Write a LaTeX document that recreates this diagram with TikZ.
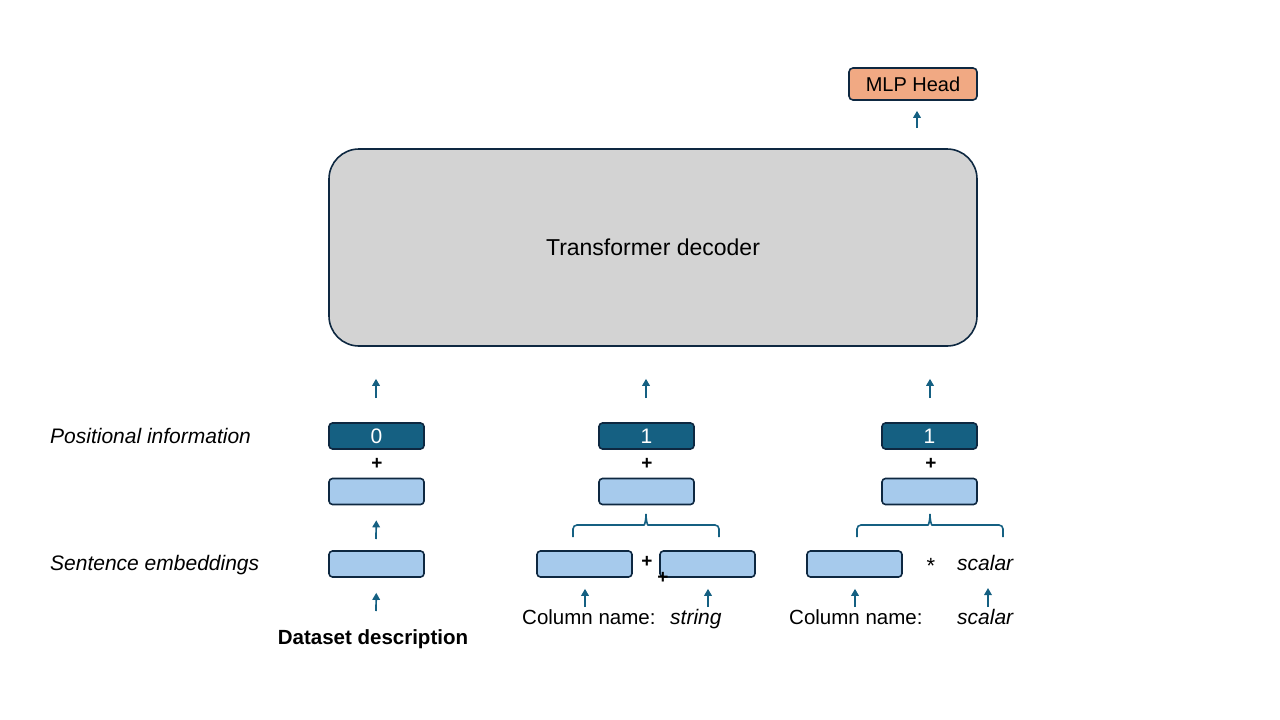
\documentclass[tikz,border=0pt]{standalone}
\usepackage{fontspec}
\setmainfont{Liberation Sans}
\usetikzlibrary{arrows.meta,calc}
\definecolor{navy}{HTML}{0E2841}
\definecolor{dblue}{HTML}{156082}
\definecolor{lblue}{HTML}{A6CAEC}
\definecolor{tgrey}{HTML}{D3D3D3}
\definecolor{salmon}{HTML}{F1A983}
\tikzset{
  lbox/.style={draw=navy, line width=1.6pt, fill=lblue, rounded corners=3.5pt, minimum width=95pt, minimum height=26pt, inner sep=0pt},
  dbox/.style={draw=navy, line width=1.6pt, fill=dblue, rounded corners=3.5pt, minimum width=95pt, minimum height=26pt, inner sep=0pt, text=white, font=\fontsize{21}{22}\selectfont},
  arr/.style={draw=dblue, line width=1.7pt, -{Triangle[length=7pt,width=7.5pt]}},
  brace/.style={draw=dblue, line width=1.6pt, rounded corners=4pt},
  txt/.style={inner sep=0pt, anchor=base west, font=\fontsize{20.5}{22}\selectfont},
  itxt/.style={inner sep=0pt, anchor=base west, font=\fontsize{21}{22}\selectfont\itshape},
  op/.style={inner sep=0pt, font=\fontsize{19}{20}\selectfont\bfseries},
}
\begin{document}
\begin{tikzpicture}[x=1pt,y=-1pt]
\useasboundingbox (0,0) rectangle (1280,720);
% main blocks
\node[draw=navy, line width=1.6pt, fill=tgrey, rounded corners=30pt, minimum width=648pt, minimum height=197pt, inner sep=0pt, font=\fontsize{23}{26}\selectfont] (tr) at (653,247.5) {Transformer decoder};
\node[draw=navy, line width=1.6pt, fill=salmon, rounded corners=4pt, minimum width=128pt, minimum height=32pt, inner sep=0pt, font=\fontsize{20}{22}\selectfont] (mlp) at (913,84) {MLP Head};
\coordinate (ma) at (917,128);
\draw[arr, shorten >=10pt] (ma) -- (ma |- mlp.south);

% left labels
\node[itxt] (lp) at (50,443) {Positional information};
\node[itxt] (ls) at (50,570) {Sentence embeddings};

% column 1
\node[dbox] (p0) at (376.5,436) {0};
\node[op] (pl0) at (377,464) {+};
\node[lbox] (e0) at (376.5,491.5) {};
\node[lbox] (s0) at (376.5,564) {};
\node[txt, anchor=base, font=\fontsize{20.5}{22}\selectfont\bfseries] (dd) at (373,644) {Dataset description};
\coordinate (a0) at (376,398);
\draw[arr, shorten >=32pt] (a0) -- (a0 |- tr.south);
\coordinate (b0) at (376,539);
\draw[arr, shorten >=15pt] (b0) -- (e0.south);
\coordinate (c0) at (376,611);
\draw[arr, shorten >=15pt] (c0) -- (s0.south);

% column 2
\node[dbox] (p1) at (646.5,436) {1};
\node[op] (pl1) at (647,464) {+};
\node[lbox] (e1) at (646.5,491.5) {};
\node[lbox] (s1) at (584.5,564) {};
\node[op] (pl2) at (647,562) {+};
\node[lbox] (s2) at (707.5,564) {};
\node[op] (pl3) at (663,578) {+};
\node[txt] (cn1) at (522,624) {Column name:};
\node[itxt] (st) at (670,624) {string};
\coordinate (a1) at (646,398);
\draw[arr, shorten >=32pt] (a1) -- (a1 |- tr.south);
\coordinate (bl1) at (573,537);
\coordinate (br1) at (719,537);
\coordinate (bt1) at (646,514);
\draw[brace] (bl1) -- (573,525) -- (640,525) to[out=0,in=-90] (bt1);
\draw[brace] (br1) -- (719,525) -- (652,525) to[out=180,in=-90] (bt1);
\coordinate (c1) at (585,607);
\draw[arr, shorten >=11pt] (c1) -- (c1 |- s1.south);
\coordinate (c2) at (708,607);
\draw[arr, shorten >=11pt] (c2) -- (c2 |- s2.south);

% column 3
\node[dbox] (p2) at (929.5,436) {1};
\node[op] (pl4) at (931,464) {+};
\node[lbox] (e2) at (929.5,491.5) {};
\node[lbox] (s3) at (854.5,564) {};
\node[inner sep=0pt, anchor=base, font=\fontsize{22}{22}\selectfont] (st3) at (931,573) {*};
\node[itxt] (sc1) at (957,570) {scalar};
\node[txt] (cn2) at (789,624) {Column name:};
\node[itxt] (sc2) at (957,624) {scalar};
\coordinate (a2) at (930,398);
\draw[arr, shorten >=32pt] (a2) -- (a2 |- tr.south);
\coordinate (bl2) at (857,537);
\coordinate (br2) at (1003,537);
\coordinate (bt2) at (930,514);
\draw[brace] (bl2) -- (857,525) -- (924,525) to[out=0,in=-90] (bt2);
\draw[brace] (br2) -- (1003,525) -- (936,525) to[out=180,in=-90] (bt2);
\coordinate (c3) at (855,607);
\draw[arr, shorten >=11pt] (c3) -- (c3 |- s3.south);
\coordinate (c4) at (988,607);
\coordinate (c4e) at (988,588);
\draw[arr] (c4) -- (c4e);
\end{tikzpicture}
\end{document}
